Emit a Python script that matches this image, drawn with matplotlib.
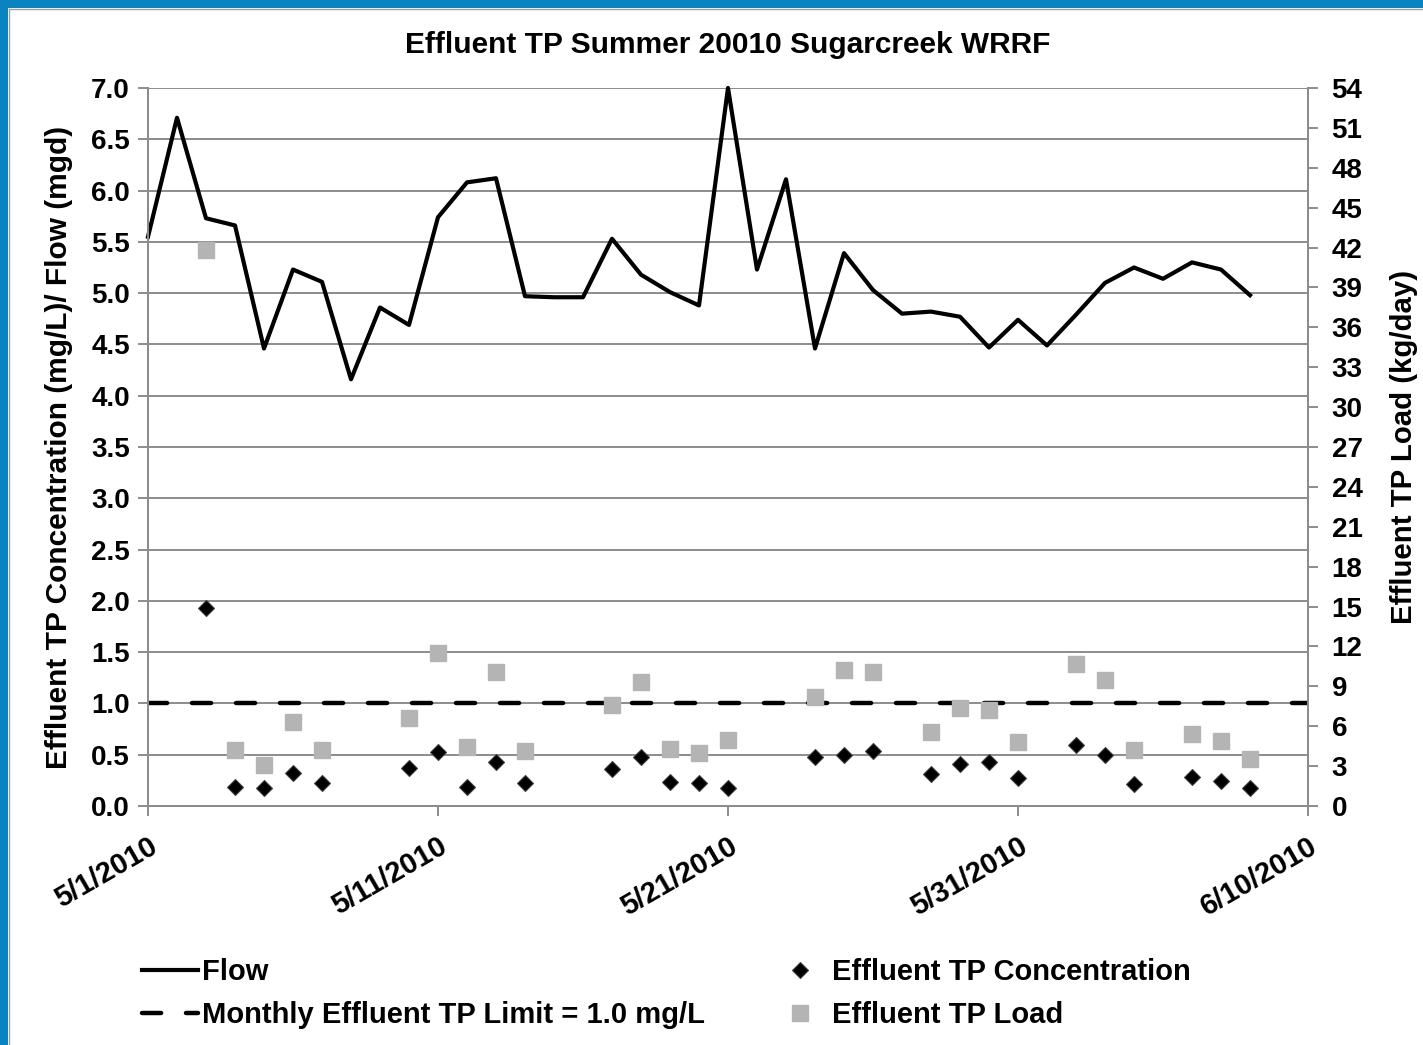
import numpy as np
import matplotlib
matplotlib.use("Agg")
import matplotlib.pyplot as plt
import pandas as pd
from matplotlib.patches import Rectangle
from matplotlib.lines import Line2D

plt.rcParams['font.family'] = ['Liberation Sans', 'DejaVu Sans']
plt.rcParams['font.weight'] = 'bold'

# daily flow, 5/1/2010 - 6/8/2010 (mgd)
flow_dates = pd.date_range('2010-05-01', '2010-06-08', freq='D')
flow = [5.55, 6.71, 5.73, 5.66, 4.46, 5.23, 5.11, 4.16, 4.86, 4.69,
        5.74, 6.08, 6.12, 4.97, 4.96, 4.96, 5.53, 5.18, 5.01, 4.88,
        7.00, 5.23, 6.11, 4.46, 5.39, 5.03, 4.80, 4.82, 4.77, 4.47,
        4.74, 4.49, 4.79, 5.10, 5.25, 5.14, 5.30, 5.23, 4.98]

# sample days for effluent TP
sample_dates = pd.to_datetime([
    '2010-05-03', '2010-05-04', '2010-05-05', '2010-05-06', '2010-05-07',
    '2010-05-10', '2010-05-11', '2010-05-12', '2010-05-13', '2010-05-14',
    '2010-05-17', '2010-05-18', '2010-05-19', '2010-05-20', '2010-05-21',
    '2010-05-24', '2010-05-25', '2010-05-26', '2010-05-28', '2010-05-29',
    '2010-05-30', '2010-05-31', '2010-06-02', '2010-06-03', '2010-06-04',
    '2010-06-06', '2010-06-07', '2010-06-08'])
tp_conc = [1.93, 0.19, 0.18, 0.32, 0.22, 0.37, 0.53, 0.19, 0.43, 0.22,
           0.36, 0.48, 0.23, 0.22, 0.18, 0.48, 0.50, 0.54, 0.31, 0.41,
           0.43, 0.27, 0.59, 0.50, 0.21, 0.28, 0.24, 0.18]
tp_load = [41.8, 4.2, 3.1, 6.3, 4.2, 6.6, 11.5, 4.4, 10.1, 4.1,
           7.6, 9.3, 4.3, 4.0, 5.0, 8.2, 10.2, 10.1, 5.6, 7.4,
           7.2, 4.8, 10.7, 9.5, 4.2, 5.4, 4.9, 3.5]
tp_limit = 1.0

x_start = pd.Timestamp('2010-05-01')
x_end = pd.Timestamp('2010-06-10')
x_ticks = pd.to_datetime(['2010-05-01', '2010-05-11', '2010-05-21', '2010-05-31', '2010-06-10'])

grid_col = '#8C8C8C'

fig = plt.figure(figsize=(14.23, 10.45), dpi=100, facecolor='white')
ax = fig.add_axes([148/1423, 1-806/1045, 1160/1423, 718/1045])
ax2 = ax.twinx()

# blue frame strips on top / left
fig.patches.append(Rectangle((0, 1-8/1045), 1, 8/1045, transform=fig.transFigure,
                             facecolor='#0A84C1', edgecolor='none', zorder=0))
fig.patches.append(Rectangle((0, 0), 8/1423, 1, transform=fig.transFigure,
                             facecolor='#0A84C1', edgecolor='none', zorder=0))
fig.lines.append(Line2D([9/1423, 1], [1-9/1045, 1-9/1045], transform=fig.transFigure,
                        color='#A0A0A0', lw=1))
fig.lines.append(Line2D([9/1423, 9/1423], [0, 1-9/1045], transform=fig.transFigure,
                        color='#A0A0A0', lw=1))

flow_line, = ax.plot(flow_dates, flow, color='black', lw=3.0, clip_on=False, zorder=3)
limit_line, = ax.plot([x_start, x_end], [tp_limit, tp_limit], color='black', lw=3.2,
                      dash_capstyle='round', zorder=3)
limit_line.set_dashes([4.3, 5.6])
conc_pts, = ax.plot(sample_dates, tp_conc, ls='none', marker='D', ms=7.8,
                    mfc='black', mec='#404040', mew=0.8, zorder=4)
load_pts, = ax2.plot(sample_dates, tp_load, ls='none', marker='s', ms=11,
                     mfc='#B4B4B4', mec='#B4B4B4', zorder=4)

ax.set_xlim(x_start, x_end)
ax.set_ylim(0, 7)
ax.set_yticks(np.arange(0, 7.01, 0.5))
ax.yaxis.set_major_formatter(matplotlib.ticker.FormatStrFormatter('%.1f'))
ax2.set_ylim(0, 54)
ax2.set_yticks(np.arange(0, 55, 3))

ax.grid(axis='y', color=grid_col, lw=1.4)
ax.set_axisbelow(True)
for a in (ax, ax2):
    a.spines['top'].set_visible(False)
    for s in ('left', 'right', 'bottom'):
        a.spines[s].set_color(grid_col)
        a.spines[s].set_linewidth(1.4)
    a.tick_params(axis='both', colors=grid_col, width=1.4, length=7, labelsize=20,
                  labelcolor='black', direction='out')
ax.tick_params(axis='x', pad=12)
ax.tick_params(axis='y', pad=6)
ax2.tick_params(axis='y', pad=10)

ax.set_xticks(x_ticks)
ax.set_xticklabels([f'{d.month}/{d.day}/{d.year}' for d in x_ticks], fontsize=21,
                   rotation=30, ha='right', va='top', rotation_mode='anchor')

ax.set_ylabel('Effluent TP Concentration (mg/L)/ Flow (mgd)', fontsize=21.5,
              fontweight='bold', labelpad=13)
ax2.set_ylabel('Effluent TP Load (kg/day)', fontsize=21.2, fontweight='bold', labelpad=20)
ax.set_title('Effluent TP Summer 20010 Sugarcreek WRRF', fontsize=21.5,
             fontweight='bold', pad=25)

fig.legend([flow_line, limit_line, conc_pts, load_pts],
           ['Flow', 'Monthly Effluent TP Limit = 1.0 mg/L',
            'Effluent TP Concentration', 'Effluent TP Load'],
           ncol=2, loc='lower left', bbox_to_anchor=(116/1423, -10/1045),
           frameon=False, fontsize=21, handlelength=1.9, handletextpad=0.15,
           columnspacing=2.3, labelspacing=0.5)

fig.savefig('out.png', dpi=100, facecolor='white')
